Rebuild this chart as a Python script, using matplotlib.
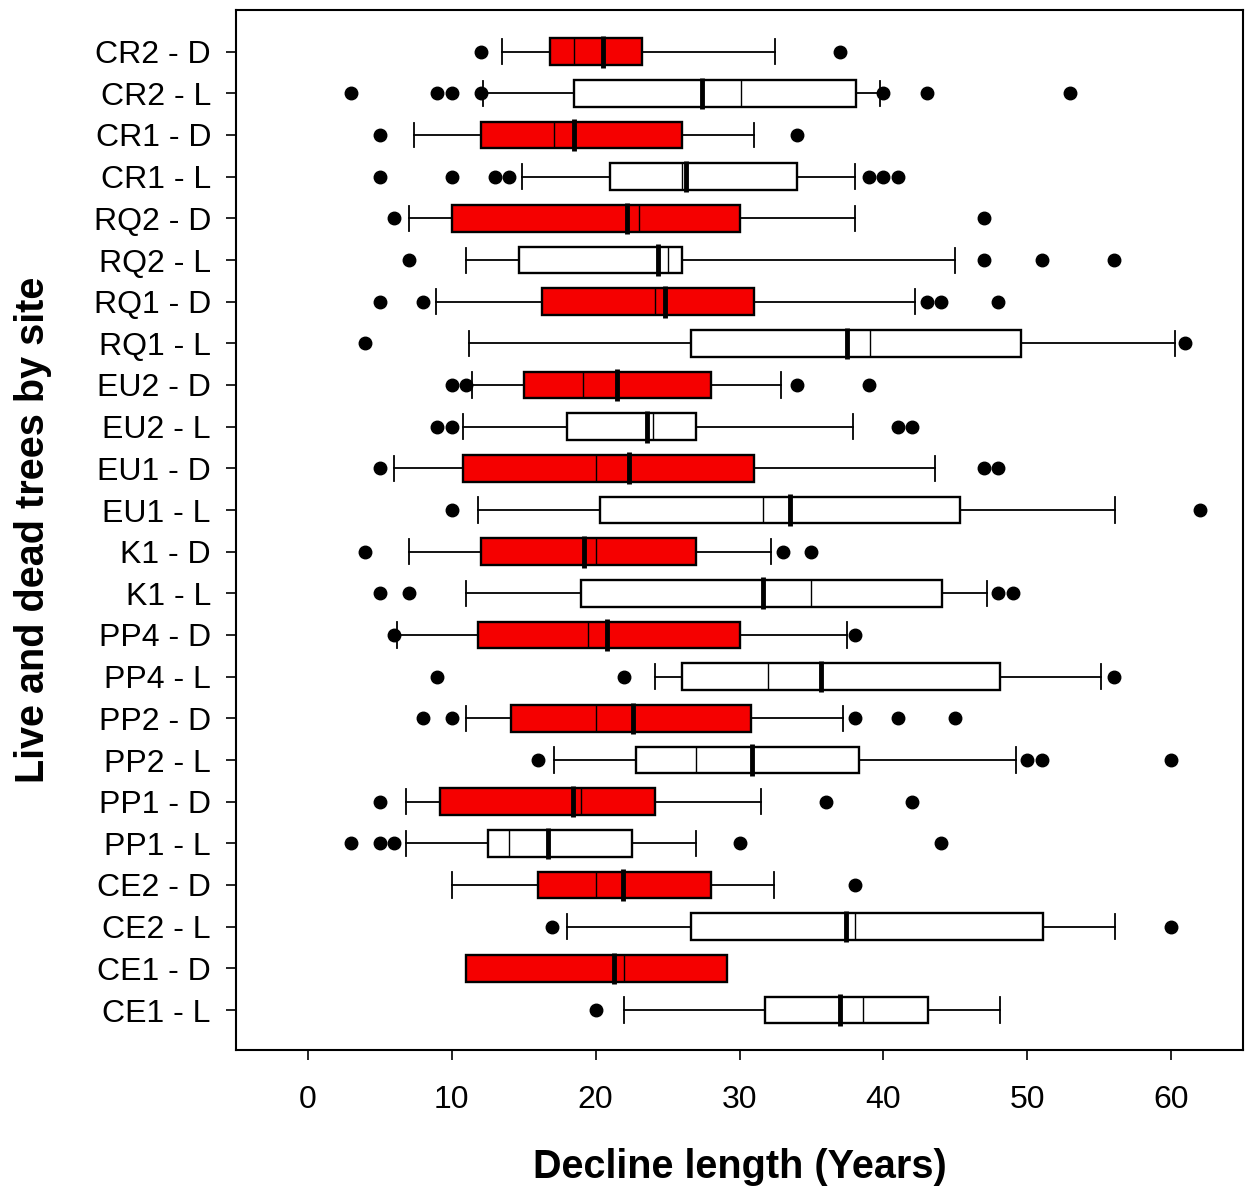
import matplotlib
matplotlib.use("Agg")
import matplotlib.pyplot as plt

labels = ["CR2 - D", "CR2 - L", "CR1 - D", "CR1 - L", "RQ2 - D", "RQ2 - L",
          "RQ1 - D", "RQ1 - L", "EU2 - D", "EU2 - L", "EU1 - D", "EU1 - L",
          "K1 - D", "K1 - L", "PP4 - D", "PP4 - L", "PP2 - D", "PP2 - L",
          "PP1 - D", "PP1 - L", "CE2 - D", "CE2 - L", "CE1 - D", "CE1 - L"]

whislo = [13.5, 12.2, 7.4, 14.9, 7.0, 11.0, 8.9, 11.2, 11.4, 10.8, 6.0, 11.8,
          7.0, 11.0, 6.2, 24.1, 11.0, 17.1, 6.8, 6.8, 10.0, 18.0, 11.0, 22.0]
q1 = [16.8, 18.5, 12.0, 21.0, 10.0, 14.7, 16.3, 26.6, 15.0, 18.0, 10.8, 20.3,
      12.0, 19.0, 11.8, 26.0, 14.1, 22.8, 9.2, 12.5, 16.0, 26.6, 11.0, 31.8]
med = [18.5, 30.1, 17.1, 26.0, 23.0, 25.0, 24.1, 39.1, 19.1, 24.0, 20.0, 31.6,
       20.0, 35.0, 19.5, 32.0, 20.0, 27.0, 19.0, 14.0, 20.0, 38.0, 22.0, 38.6]
means = [20.5, 27.4, 18.5, 26.3, 22.2, 24.3, 24.8, 37.5, 21.5, 23.6, 22.3, 33.5,
         19.2, 31.6, 20.8, 35.7, 22.6, 30.9, 18.4, 16.7, 21.9, 37.4, 21.3, 37.0]
q3 = [23.2, 38.1, 26.0, 34.0, 30.0, 26.0, 31.0, 49.6, 28.0, 27.0, 31.0, 45.3,
      27.0, 44.1, 30.0, 48.1, 30.8, 38.3, 24.1, 22.5, 28.0, 51.1, 29.1, 43.1]
whishi = [32.5, 39.8, 31.0, 38.0, 38.0, 45.0, 42.2, 60.3, 32.9, 37.9, 43.6, 56.1,
          32.2, 47.2, 37.5, 55.1, 37.2, 49.2, 31.5, 27.0, 32.4, 56.1, 29.1, 48.1]
outliers = [
    [12, 37],
    [3, 9, 10, 12, 40, 43, 53],
    [5, 34],
    [5, 10, 13, 14, 39, 40, 41],
    [6, 47],
    [7, 47, 51, 56],
    [5, 8, 43, 44, 48],
    [4, 61],
    [10, 11, 34, 39],
    [9, 10, 41, 42],
    [5, 47, 48],
    [10, 62],
    [4, 33, 35],
    [5, 7, 48, 49],
    [6, 38],
    [9, 22, 56],
    [8, 10, 38, 41, 45],
    [16, 50, 51, 60],
    [5, 36, 42],
    [3, 5, 6, 30, 44],
    [38],
    [17, 60],
    [],
    [20],
]
no_whisker = ["CE1 - D"]
xticks = [0, 10, 20, 30, 40, 50, 60]

plt.rcParams['font.family'] = ['Liberation Sans', 'DejaVu Sans']

fig = plt.figure(figsize=(12.46, 11.9), dpi=100)
ax = fig.add_axes([236 / 1246, 1 - 1050 / 1190, (1243 - 236) / 1246, (1050 - 10) / 1190])

stats = []
for i, lab in enumerate(labels):
    stats.append(dict(label=lab, whislo=whislo[i], q1=q1[i], med=med[i],
                      mean=means[i], q3=q3[i], whishi=whishi[i],
                      fliers=outliers[i]))

positions = list(range(1, len(labels) + 1))
res = ax.bxp(stats, positions=positions, vert=False, widths=0.64,
             capwidths=0.6, patch_artist=True, showmeans=True, meanline=True,
             boxprops=dict(edgecolor='black', linewidth=1.7),
             whiskerprops=dict(color='black', linewidth=1.3),
             capprops=dict(color='black', linewidth=1.3),
             medianprops=dict(color='black', linewidth=1.0),
             meanprops=dict(color='black', linewidth=3.5, linestyle='-'),
             flierprops=dict(marker='o', markerfacecolor='black',
                             markeredgecolor='black', markersize=9))

for i, (lab, box) in enumerate(zip(labels, res['boxes'])):
    box.set_facecolor('#f50000' if lab.endswith('D') else 'white')
    if lab in no_whisker:
        for art in res['caps'][2 * i:2 * i + 2] + res['whiskers'][2 * i:2 * i + 2]:
            art.set_visible(False)

# extend mean lines slightly beyond box like the reference
for ml in res['means']:
    y = ml.get_ydata()
    c = (y[0] + y[1]) / 2
    ml.set_ydata([c - 0.38, c + 0.38])

ax.set_xlim(-5, 65)
ax.set_ylim(24.96, 0.0)
ax.set_yticks(positions)
ax.set_yticklabels(labels)
ax.set_xticks(xticks)
ax.set_xticklabels([str(t) for t in xticks])

ax.tick_params(axis='y', length=7, width=1.2, pad=11, labelsize=23)
ax.tick_params(axis='x', length=7, width=1.2, pad=18, labelsize=23)
for sp in ax.spines.values():
    sp.set_linewidth(1.5)

ax.set_xlabel('Decline length (Years)', fontsize=28.5, fontweight='bold', labelpad=24)
ax.set_ylabel('Live and dead trees by site', fontsize=28.5, fontweight='bold', labelpad=30)

fig.savefig('out.png', dpi=100)
